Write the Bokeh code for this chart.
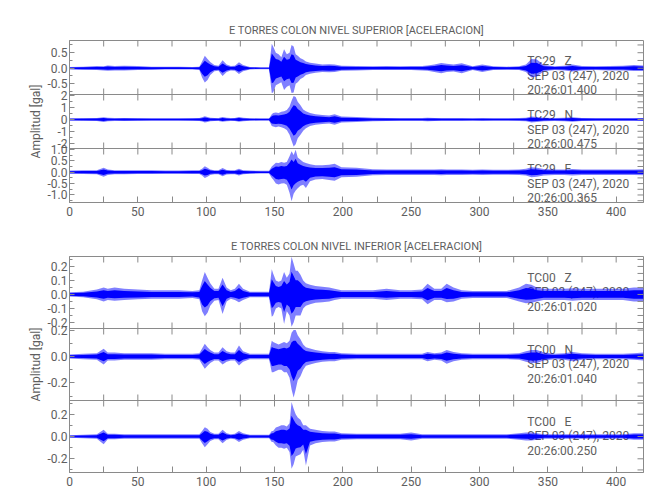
from math import pi
from bokeh.plotting import figure
from bokeh.models import Range1d, LinearAxis, FixedTicker, Label, Span, CustomJSTickFormatter
from bokeh.layouts import column
from bokeh.embed import file_html
from bokeh.resources import INLINE

# ---------------- data (envelope of the records) ----------------
T = [0, 10, 20, 25, 28, 33, 40, 50, 60, 70,
     80, 90, 95, 97, 99, 101, 103, 106, 109, 112,
     115, 118, 121, 124, 127, 132, 140, 146, 148, 149,
     151, 153, 155, 157, 159, 161, 162.5, 164, 165.5, 167,
     169, 171, 173, 176, 180, 185, 190, 194, 199, 210,
     222, 232, 242, 250, 258, 262, 267, 272, 276, 281,
     287, 295, 302, 310, 320, 329, 334, 338, 342, 347,
     355, 362, 368, 375, 385, 395, 405, 413, 420]

SUP_Z_UP = [0.04, 0.05, 0.07, 0.06, 0.09, 0.07, 0.08, 0.07, 0.05, 0.05,
            0.05, 0.04, 0.05, 0.22, 0.40, 0.30, 0.20, 0.10, 0.08, 0.26,
            0.12, 0.07, 0.08, 0.19, 0.10, 0.04, 0.03, 0.03, 0.79, 0.70,
            0.50, 0.45, 0.35, 0.61, 0.45, 0.50, 0.75, 0.70, 0.45, 0.40,
            0.32, 0.28, 0.22, 0.18, 0.15, 0.12, 0.13, 0.12, 0.08, 0.07,
            0.06, 0.07, 0.06, 0.07, 0.07, 0.09, 0.12, 0.17, 0.14, 0.12,
            0.16, 0.06, 0.12, 0.06, 0.05, 0.06, 0.12, 0.30, 0.28, 0.10,
            0.06, 0.08, 0.12, 0.07, 0.06, 0.07, 0.08, 0.10, 0.09]
SUP_Z_LO = [-0.04, -0.05, -0.06, -0.07, -0.08, -0.07, -0.07, -0.06, -0.05, -0.04,
            -0.04, -0.04, -0.06, -0.30, -0.46, -0.38, -0.22, -0.10, -0.08, -0.25,
            -0.12, -0.07, -0.08, -0.19, -0.10, -0.04, -0.03, -0.03, -0.80, -0.78,
            -0.55, -0.50, -0.45, -0.70, -0.60, -0.55, -0.80, -0.78, -0.50, -0.45,
            -0.35, -0.30, -0.22, -0.18, -0.15, -0.12, -0.13, -0.12, -0.08, -0.07,
            -0.06, -0.06, -0.06, -0.06, -0.07, -0.08, -0.12, -0.16, -0.12, -0.11,
            -0.16, -0.06, -0.12, -0.06, -0.05, -0.06, -0.12, -0.30, -0.27, -0.10,
            -0.06, -0.07, -0.11, -0.07, -0.06, -0.07, -0.07, -0.09, -0.09]

SUP_N_UP = [0.10, 0.12, 0.13, 0.20, 0.14, 0.12, 0.13, 0.12, 0.11, 0.10,
            0.11, 0.12, 0.13, 0.18, 0.28, 0.22, 0.15, 0.13, 0.12, 0.22,
            0.14, 0.12, 0.13, 0.22, 0.14, 0.10, 0.09, 0.09, 0.45, 0.55,
            0.60, 0.55, 0.65, 0.70, 0.80, 1.10, 1.60, 2.00, 1.90, 1.50,
            1.20, 0.85, 0.70, 0.55, 0.45, 0.38, 0.33, 0.45, 0.25, 0.22,
            0.15, 0.13, 0.12, 0.12, 0.12, 0.14, 0.13, 0.12, 0.12, 0.12,
            0.12, 0.11, 0.12, 0.11, 0.11, 0.12, 0.15, 0.25, 0.22, 0.14,
            0.12, 0.14, 0.20, 0.13, 0.12, 0.12, 0.12, 0.12, 0.13]
SUP_N_LO = [-0.10, -0.12, -0.13, -0.22, -0.14, -0.12, -0.13, -0.12, -0.11, -0.10,
            -0.11, -0.12, -0.13, -0.18, -0.26, -0.22, -0.15, -0.13, -0.12, -0.20,
            -0.14, -0.12, -0.13, -0.20, -0.14, -0.10, -0.09, -0.09, -0.55, -0.60,
            -0.65, -0.60, -0.65, -0.75, -0.90, -1.30, -1.80, -2.30, -2.10, -1.60,
            -1.30, -0.95, -0.75, -0.55, -0.45, -0.38, -0.33, -0.45, -0.25, -0.22,
            -0.15, -0.13, -0.12, -0.12, -0.12, -0.14, -0.13, -0.12, -0.12, -0.12,
            -0.12, -0.11, -0.12, -0.11, -0.11, -0.12, -0.15, -0.25, -0.22, -0.14,
            -0.12, -0.14, -0.20, -0.13, -0.12, -0.12, -0.12, -0.12, -0.13]

SUP_E_UP = [0.07, 0.08, 0.09, 0.20, 0.12, 0.09, 0.09, 0.08, 0.08, 0.07,
            0.07, 0.08, 0.08, 0.15, 0.26, 0.20, 0.12, 0.09, 0.09, 0.18,
            0.10, 0.09, 0.09, 0.15, 0.09, 0.07, 0.06, 0.06, 0.25, 0.30,
            0.42, 0.40, 0.45, 0.42, 0.45, 0.70, 0.92, 0.75, 0.99, 0.65,
            0.55, 0.45, 0.40, 0.35, 0.30, 0.30, 0.33, 0.37, 0.22, 0.20,
            0.13, 0.12, 0.12, 0.12, 0.12, 0.12, 0.12, 0.13, 0.12, 0.12,
            0.12, 0.11, 0.12, 0.11, 0.11, 0.12, 0.15, 0.22, 0.20, 0.14,
            0.12, 0.12, 0.14, 0.12, 0.12, 0.12, 0.12, 0.12, 0.13]
SUP_E_LO = [-0.07, -0.08, -0.09, -0.20, -0.12, -0.09, -0.09, -0.08, -0.08, -0.07,
            -0.07, -0.08, -0.08, -0.15, -0.25, -0.20, -0.12, -0.09, -0.09, -0.18,
            -0.10, -0.09, -0.09, -0.15, -0.09, -0.07, -0.06, -0.06, -0.25, -0.32,
            -0.50, -0.54, -0.50, -0.48, -0.55, -0.90, -1.27, -0.95, -0.80, -0.70,
            -0.60, -0.55, -0.69, -0.40, -0.32, -0.30, -0.34, -0.37, -0.22, -0.20,
            -0.13, -0.12, -0.12, -0.12, -0.12, -0.12, -0.12, -0.13, -0.12, -0.12,
            -0.12, -0.11, -0.12, -0.11, -0.11, -0.12, -0.15, -0.22, -0.20, -0.14,
            -0.12, -0.12, -0.14, -0.12, -0.12, -0.12, -0.12, -0.12, -0.13]

INF_Z_UP = [0.015, 0.02, 0.035, 0.05, 0.04, 0.05, 0.04, 0.035, 0.03, 0.03,
            0.03, 0.025, 0.03, 0.10, 0.16, 0.12, 0.08, 0.04, 0.04, 0.12,
            0.05, 0.03, 0.04, 0.076, 0.04, 0.02, 0.02, 0.02, 0.18, 0.15,
            0.10, 0.09, 0.10, 0.16, 0.12, 0.15, 0.27, 0.22, 0.17, 0.17,
            0.14, 0.10, 0.08, 0.07, 0.06, 0.055, 0.05, 0.04, 0.03, 0.03,
            0.03, 0.04, 0.03, 0.03, 0.035, 0.076, 0.04, 0.04, 0.076, 0.05,
            0.03, 0.025, 0.025, 0.025, 0.025, 0.05, 0.076, 0.07, 0.05, 0.04,
            0.04, 0.04, 0.045, 0.04, 0.04, 0.04, 0.04, 0.05, 0.05]
INF_Z_LO = [-0.015, -0.02, -0.035, -0.05, -0.04, -0.045, -0.04, -0.035, -0.03, -0.03,
            -0.03, -0.025, -0.035, -0.12, -0.155, -0.13, -0.08, -0.045, -0.04, -0.14,
            -0.05, -0.03, -0.04, -0.055, -0.04, -0.02, -0.02, -0.02, -0.16, -0.15,
            -0.10, -0.09, -0.10, -0.21, -0.12, -0.15, -0.23, -0.20, -0.15, -0.15,
            -0.15, -0.10, -0.08, -0.07, -0.06, -0.055, -0.05, -0.04, -0.03, -0.03,
            -0.03, -0.04, -0.03, -0.03, -0.035, -0.07, -0.04, -0.04, -0.055, -0.05,
            -0.03, -0.025, -0.025, -0.025, -0.025, -0.05, -0.062, -0.06, -0.05, -0.04,
            -0.04, -0.04, -0.045, -0.04, -0.04, -0.04, -0.04, -0.05, -0.05]

INF_N_UP = [0.015, 0.02, 0.025, 0.058, 0.03, 0.03, 0.025, 0.025, 0.025, 0.02,
            0.02, 0.02, 0.025, 0.06, 0.096, 0.07, 0.05, 0.03, 0.03, 0.07,
            0.04, 0.03, 0.03, 0.083, 0.04, 0.02, 0.02, 0.02, 0.12, 0.11,
            0.10, 0.09, 0.10, 0.11, 0.10, 0.12, 0.18, 0.20, 0.20, 0.16,
            0.13, 0.09, 0.07, 0.06, 0.05, 0.04, 0.035, 0.035, 0.025, 0.02,
            0.02, 0.02, 0.02, 0.02, 0.02, 0.035, 0.025, 0.03, 0.05, 0.035,
            0.025, 0.02, 0.02, 0.02, 0.02, 0.025, 0.04, 0.05, 0.05, 0.03,
            0.02, 0.025, 0.035, 0.025, 0.02, 0.02, 0.02, 0.025, 0.03]
INF_N_LO = [-0.015, -0.02, -0.025, -0.06, -0.03, -0.03, -0.025, -0.025, -0.025, -0.02,
            -0.02, -0.02, -0.025, -0.06, -0.093, -0.07, -0.05, -0.03, -0.03, -0.06,
            -0.04, -0.03, -0.03, -0.068, -0.04, -0.02, -0.02, -0.02, -0.12, -0.12,
            -0.11, -0.10, -0.10, -0.12, -0.12, -0.16, -0.25, -0.31, -0.25, -0.18,
            -0.15, -0.10, -0.07, -0.06, -0.05, -0.04, -0.035, -0.035, -0.025, -0.02,
            -0.02, -0.02, -0.02, -0.02, -0.02, -0.035, -0.025, -0.03, -0.055, -0.035,
            -0.025, -0.02, -0.02, -0.02, -0.02, -0.025, -0.04, -0.05, -0.05, -0.03,
            -0.02, -0.025, -0.035, -0.025, -0.02, -0.02, -0.02, -0.025, -0.03]

INF_E_UP = [0.012, 0.015, 0.02, 0.06, 0.025, 0.025, 0.02, 0.02, 0.02, 0.02,
            0.02, 0.02, 0.02, 0.05, 0.084, 0.07, 0.04, 0.025, 0.025, 0.06,
            0.03, 0.02, 0.025, 0.05, 0.03, 0.015, 0.015, 0.015, 0.05, 0.05,
            0.08, 0.09, 0.10, 0.10, 0.09, 0.12, 0.31, 0.25, 0.20, 0.17,
            0.15, 0.10, 0.10, 0.07, 0.06, 0.05, 0.045, 0.045, 0.03, 0.025,
            0.025, 0.025, 0.025, 0.035, 0.02, 0.02, 0.02, 0.02, 0.02, 0.02,
            0.02, 0.02, 0.02, 0.02, 0.02, 0.03, 0.035, 0.035, 0.03, 0.02,
            0.02, 0.02, 0.02, 0.02, 0.02, 0.02, 0.02, 0.03, 0.03]
INF_E_LO = [-0.012, -0.015, -0.02, -0.07, -0.025, -0.025, -0.02, -0.02, -0.02, -0.02,
            -0.02, -0.02, -0.02, -0.06, -0.096, -0.07, -0.04, -0.025, -0.025, -0.06,
            -0.03, -0.02, -0.025, -0.05, -0.03, -0.015, -0.015, -0.015, -0.05, -0.05,
            -0.08, -0.10, -0.10, -0.11, -0.10, -0.14, -0.29, -0.25, -0.18, -0.17,
            -0.16, -0.12, -0.26, -0.08, -0.06, -0.05, -0.045, -0.045, -0.03, -0.025,
            -0.025, -0.025, -0.025, -0.035, -0.02, -0.02, -0.02, -0.02, -0.02, -0.02,
            -0.02, -0.02, -0.02, -0.02, -0.02, -0.03, -0.035, -0.035, -0.03, -0.02,
            -0.02, -0.02, -0.02, -0.02, -0.02, -0.02, -0.02, -0.03, -0.03]

X_TICKS = [0, 50, 100, 150, 200, 250, 300, 350, 400]
X_MINOR = [25, 75, 125, 175, 225, 275, 325, 375]

SUP_Z_TICKS, SUP_Z_LABELS = [-0.5, 0.0, 0.5], ["-0.5", "0.0", "0.5"]
SUP_N_TICKS, SUP_N_LABELS = [-2, -1, 0, 1, 2], ["-2", "-1", "0", "1", "2"]
SUP_E_TICKS, SUP_E_LABELS = [-1.0, -0.5, 0.0, 0.5, 1.0], ["-1.0", "-0.5", "0.0", "0.5", "1.0"]
INF_Z_TICKS, INF_Z_LABELS = [-0.2, -0.1, 0.0, 0.1, 0.2], ["-0.2", "-0.1", "0.0", "0.1", "0.2"]
INF_N_TICKS, INF_N_LABELS = [-0.2, 0.0, 0.2], ["-0.2", "0.0", "0.2"]
INF_E_TICKS, INF_E_LABELS = [-0.2, 0.0, 0.2], ["-0.2", "0.0", "0.2"]

# y limits of each panel (gal)
SUP_Z_LIM = (-0.848, 0.894)
SUP_N_LIM = (-2.46, 2.12)
SUP_E_LIM = (-1.33, 1.04)
INF_Z_LIM = (-0.243, 0.271)
INF_N_LIM = (-0.333, 0.212)
INF_E_LIM = (-0.323, 0.323)

TITLE_SUP = "E TORRES COLON NIVEL SUPERIOR [ACELERACION]"
TITLE_INF = "E TORRES COLON NIVEL INFERIOR [ACELERACION]"
Y_LABEL = "Amplitud [gal]"

NB = "\u00a0\u00a0\u00a0"
INFO_SUP_Z = ["TC29" + NB + "Z", "SEP 03 (247), 2020", "20:26:01.400"]
INFO_SUP_N = ["TC29" + NB + "N", "SEP 03 (247), 2020", "20:26:00.475"]
INFO_SUP_E = ["TC29" + NB + "E", "SEP 03 (247), 2020", "20:26:00.365"]
INFO_INF_Z = ["TC00" + NB + "Z", "SEP 03 (247), 2020", "20:26:01.020"]
INFO_INF_N = ["TC00" + NB + "N", "SEP 03 (247), 2020", "20:26:01.040"]
INFO_INF_E = ["TC00" + NB + "E", "SEP 03 (247), 2020", "20:26:00.250"]

# ---------------- style ----------------
FONT = "Roboto"
TXT = "#5e5e5e"
AX = "#8a8a8a"
BLUE = "#0000ff"
FRAME_W = 574
INFO_X = 335


def group(panels, panel_h, top_b, title, info_off):
    n = len(panels)
    H = n * panel_h
    p = figure(frame_width=FRAME_W, frame_height=H,
               x_range=Range1d(0, 420), y_range=Range1d(0, H),
               x_axis_type=None, y_axis_type=None,
               output_backend="svg", toolbar_location=None,
               min_border_left=69, min_border_right=5,
               min_border_top=top_b, min_border_bottom=22)
    p.outline_line_color = AX
    p.background_fill_color = "white"
    p.border_fill_color = "white"
    p.title.text = title
    p.title.align = "center"
    p.title.text_font = FONT
    p.title.text_font_size = "11px"
    p.title.text_font_style = "normal"
    p.title.text_color = TXT
    p.title.standoff = 8

    tick_style = dict(line_color=AX, line_width=1, length_units="screen")
    ranges = {}
    major_pos, major_lab, minor_pos = [], [], []
    for i, (up, lo, lim, yticks, ylabels, info) in enumerate(panels):
        lo_v, hi_v = lim
        bottom_px = H - (i + 1) * panel_h
        top_px = H - i * panel_h
        per_px = (hi_v - lo_v) / panel_h
        name = "panel%d" % i
        ranges[name] = Range1d(lo_v - bottom_px * per_px, hi_v + (H - top_px) * per_px)

        step = yticks[1] - yticks[0]
        cand = [t + step / 2 for t in yticks] + [yticks[0] - step / 2]
        yminor = [m for m in cand if lo_v < m < hi_v]
        for t, s in zip(yticks, ylabels):
            major_pos.append(bottom_px + (t - lo_v) / per_px)
            major_lab.append(s)
        for m in yminor:
            minor_pos.append(bottom_px + (m - lo_v) / per_px)

        # station info, behind the trace
        for k, line in enumerate(info):
            p.add_layout(Label(x=INFO_X, y=hi_v - info_off[k] * per_px, y_range_name=name,
                               text=line, text_font=FONT, text_font_size="12px",
                               text_color=TXT, text_baseline="middle", text_align="left",
                               level="underlay"))

        p.varea(x=T, y1=lo, y2=up, fill_color=BLUE, fill_alpha=0.5, y_range_name=name)
        p.varea(x=T, y1=[v * 0.6 for v in lo], y2=[v * 0.6 for v in up],
                fill_color=BLUE, fill_alpha=1.0, y_range_name=name)

        # inward ticks on top, right and (inner) bottom edges of each panel
        p.ray(x=X_TICKS + X_MINOR, y=hi_v, length=6, angle=-pi / 2, y_range_name=name, **tick_style)
        p.ray(x=420, y=yticks + yminor, length=6, angle=pi, y_range_name=name, **tick_style)
        if i < n - 1:
            p.ray(x=X_TICKS + X_MINOR, y=lo_v, length=6, angle=pi / 2, y_range_name=name, **tick_style)
        if i > 0:
            p.add_layout(Span(location=top_px, dimension="width", line_color=AX, line_width=1))

    p.extra_y_ranges = ranges

    yl = LinearAxis(ticker=FixedTicker(ticks=major_pos, minor_ticks=minor_pos),
                    formatter=CustomJSTickFormatter(args=dict(pos=major_pos, labs=major_lab), code="""
                        for (let i = 0; i < pos.length; i++) {
                            if (Math.abs(pos[i] - tick) < 1e-6) { return labs[i]; }
                        }
                        return "";
                    """))
    yl.axis_line_color = AX
    yl.major_tick_line_color = AX
    yl.minor_tick_line_color = AX
    yl.major_tick_in = 5
    yl.major_tick_out = 0
    yl.minor_tick_in = 3
    yl.minor_tick_out = 0
    yl.major_label_text_font = FONT
    yl.major_label_text_color = TXT
    yl.major_label_text_font_size = "12px"
    yl.major_label_standoff = 2
    yl.axis_label = Y_LABEL
    yl.axis_label_text_font = FONT
    yl.axis_label_text_font_size = "12px"
    yl.axis_label_text_font_style = "normal"
    yl.axis_label_text_color = TXT
    yl.axis_label_standoff = 2
    p.add_layout(yl, "left")

    xb = LinearAxis(ticker=FixedTicker(ticks=X_TICKS, minor_ticks=X_MINOR))
    xb.axis_line_color = AX
    xb.major_tick_line_color = AX
    xb.minor_tick_line_color = AX
    xb.major_tick_in = 6
    xb.major_tick_out = 0
    xb.minor_tick_in = 6
    xb.minor_tick_out = 0
    xb.major_label_text_font = FONT
    xb.major_label_text_color = TXT
    xb.major_label_text_font_size = "12px"
    xb.major_label_standoff = 4
    p.add_layout(xb, "below")
    return p


sup = group([(SUP_Z_UP, SUP_Z_LO, SUP_Z_LIM, SUP_Z_TICKS, SUP_Z_LABELS, INFO_SUP_Z),
             (SUP_N_UP, SUP_N_LO, SUP_N_LIM, SUP_N_TICKS, SUP_N_LABELS, INFO_SUP_N),
             (SUP_E_UP, SUP_E_LO, SUP_E_LIM, SUP_E_TICKS, SUP_E_LABELS, INFO_SUP_E)],
            54, 40, TITLE_SUP, [20, 35, 49.5])
inf = group([(INF_Z_UP, INF_Z_LO, INF_Z_LIM, INF_Z_TICKS, INF_Z_LABELS, INFO_INF_Z),
             (INF_N_UP, INF_N_LO, INF_N_LIM, INF_N_TICKS, INF_N_LABELS, INFO_INF_N),
             (INF_E_UP, INF_E_LO, INF_E_LIM, INF_E_TICKS, INF_E_LABELS, INFO_INF_E)],
            72, 32, TITLE_INF, [21, 35.5, 50])

layout = column(sup, inf, spacing=0)
open("out.html", "w").write(file_html(layout, INLINE))
